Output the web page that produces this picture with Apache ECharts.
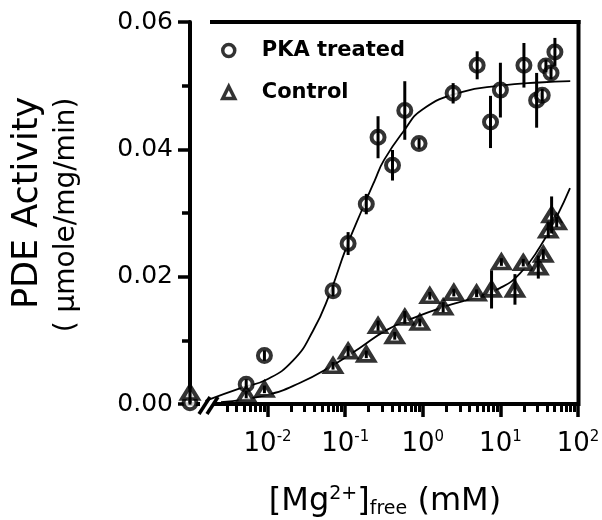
<!DOCTYPE html>
<html>
<head>
<meta charset="utf-8">
<script src="https://cdn.jsdelivr.net/npm/echarts@6/dist/echarts.min.js"></script>
<style>
html, body { margin: 0; padding: 0; background: #fff; }
#main { width: 602px; height: 520px; }
</style>
</head>
<body>
<div id="main"></div>
<script>
// PKA treated (circles)
var pkaX   = [0.001, 0.0053, 0.0091, 0.0697, 0.109, 0.187, 0.265, 0.407, 0.586, 0.895, 2.46, 5.02, 7.46, 10.0, 20.1, 29.3, 34.6, 38.6, 44.9, 50.4];
var pkaY   = [0.0002, 0.0031, 0.0076, 0.0178, 0.0252, 0.0314, 0.0419, 0.0375, 0.0461, 0.0409, 0.0488, 0.0532, 0.0443, 0.0493, 0.0532, 0.0477, 0.0485, 0.0531, 0.0520, 0.0553];
var pkaErr = [0.0003, 0.0008, 0.0008, 0.0009, 0.0018, 0.0016, 0.0033, 0.0024, 0.0046, 0.0008, 0.0016, 0.0022, 0.0041, 0.0043, 0.0035, 0.0043, 0.0010, 0.0010, 0.0010, 0.0022];

// Control (triangles)
var ctrlX   = [0.001, 0.0053, 0.0091, 0.0697, 0.109, 0.187, 0.265, 0.435, 0.586, 0.915, 1.23, 1.83, 2.51, 4.93, 7.69, 10.3, 15.4, 19.7, 30.8, 35.7, 41.4, 45.7, 53.1];
var ctrlY   = [0.0018, 0.0015, 0.0023, 0.0060, 0.0083, 0.0078, 0.0123, 0.0107, 0.0136, 0.0128, 0.0170, 0.0152, 0.0175, 0.0174, 0.0180, 0.0223, 0.0180, 0.0222, 0.0215, 0.0235, 0.0273, 0.0297, 0.0286];
var ctrlErr = [0.0016, 0.0006, 0.0006, 0.0006, 0.0008, 0.0006, 0.0008, 0.0006, 0.0010, 0.0006, 0.0006, 0.0008, 0.0006, 0.0006, 0.0030, 0.0006, 0.0024, 0.0006, 0.0018, 0.0008, 0.0012, 0.0029, 0.0008];

// fitted curves
var pkaCurveX = [0.00158, 0.00479, 0.00962, 0.0212, 0.0385, 0.0631, 0.1035, 0.170, 0.240, 0.316, 0.562, 1.0, 3.16, 10.0, 31.6, 79.4];
var pkaCurveY = [0.0005, 0.0026, 0.0038, 0.0068, 0.0115, 0.0173, 0.0246, 0.0309, 0.0351, 0.0383, 0.0428, 0.0463, 0.0490, 0.0500, 0.0505, 0.0507];
var ctrlCurveX = [0.00251, 0.00962, 0.0259, 0.0697, 0.154, 0.340, 0.750, 2.02, 4.93, 9.86, 17.9, 32.4, 53.1, 78.9];
var ctrlCurveY = [0.0003, 0.0014, 0.0033, 0.0061, 0.0088, 0.0116, 0.0135, 0.0154, 0.0168, 0.0182, 0.0205, 0.0247, 0.0294, 0.0339];

// axis ticks
var xMajorTicks = [0.01, 0.1, 1, 10, 100];
var xMinorTicks = [0.003, 0.004, 0.005, 0.006, 0.007, 0.008, 0.009,
                   0.02, 0.03, 0.04, 0.05, 0.06, 0.07, 0.08, 0.09,
                   0.2, 0.3, 0.4, 0.5, 0.6, 0.7, 0.8, 0.9,
                   2, 3, 4, 5, 6, 7, 8, 9,
                   20, 30, 40, 50, 60, 70, 80, 90];

var FONT = 'DejaVu Sans';

function pairs(xs, ys) {
    return xs.map(function (x, i) { return [x, ys[i]]; });
}
function bars(xs, ys, es) {
    return xs.map(function (x, i) { return [x, ys[i] - es[i], ys[i] + es[i]]; });
}
function renderErr(params, api) {
    var x = api.value(0);
    var lo = api.coord([x, api.value(1)]);
    var hi = api.coord([x, api.value(2)]);
    return {
        type: 'line',
        shape: { x1: lo[0], y1: lo[1], x2: hi[0], y2: hi[1] },
        style: { stroke: '#000', lineWidth: 3 }
    };
}

var chart = echarts.init(document.getElementById('main'), null, { renderer: 'canvas' });

var option = {
    animation: false,
    backgroundColor: '#fff',
    grid: {
        left: 190, right: 24, top: 22, bottom: 116,
        containLabel: false,
        outerBoundsMode: 'none'
    },
    legend: {
        orient: 'vertical',
        left: 221,
        top: 40,
        padding: 0,
        itemWidth: 12,
        itemHeight: 12,
        itemGap: 21,
        selectedMode: false,
        data: ['PKA treated', 'Control'],
        itemStyle: { borderWidth: 3.5, borderColor: '#000', color: '#fff' },
        textStyle: {
            fontFamily: FONT, fontSize: 21, fontWeight: 'bold', color: '#000',
            padding: [0, 0, 0, 22]
        }
    },
    xAxis: [
        {
            type: 'log', logBase: 10, min: 0.001, max: 100,
            position: 'bottom',
            axisLine: { show: false },
            splitLine: { show: false },
            minorTick: { show: false },
            axisTick: {
                show: true, customValues: xMajorTicks, length: 13,
                lineStyle: { color: '#000', width: 3.5 }
            },
            axisLabel: {
                customValues: xMajorTicks,
                margin: 26,
                formatter: function (v) {
                    return '{b|10}{s|' + Math.round(Math.log10(v)) + '}';
                },
                rich: {
                    b: { fontFamily: FONT, fontSize: 26, color: '#000', lineHeight: 28 },
                    s: { fontFamily: FONT, fontSize: 15, color: '#000', lineHeight: 15, verticalAlign: 'top' }
                }
            }
        },
        {
            type: 'log', logBase: 10, min: 0.001, max: 100,
            position: 'bottom',
            axisLine: { show: false },
            splitLine: { show: false },
            axisLabel: { show: false },
            axisTick: {
                show: true, customValues: xMinorTicks, length: 8,
                lineStyle: { color: '#000', width: 3 }
            }
        }
    ],
    yAxis: {
        type: 'value', min: 0, max: 0.06, interval: 0.02,
        axisLine: { show: true, lineStyle: { color: '#000', width: 4 } },
        axisTick: { show: true, length: 12, lineStyle: { color: '#000', width: 3.5 } },
        minorTick: { show: true, splitNumber: 2, length: 8, lineStyle: { color: '#000', width: 3.5 } },
        splitLine: { show: false },
        axisLabel: {
            margin: 17,
            fontFamily: FONT, fontSize: 25, color: '#000',
            formatter: function (v) { return v.toFixed(2); }
        }
    },
    series: [
        {
            name: 'pka fit', type: 'line', data: pairs(pkaCurveX, pkaCurveY),
            smooth: true, showSymbol: false, z: 1, silent: true,
            lineStyle: { color: '#000', width: 1.8 }
        },
        {
            name: 'control fit', type: 'line', data: pairs(ctrlCurveX, ctrlCurveY),
            smooth: true, showSymbol: false, z: 1, silent: true,
            lineStyle: { color: '#000', width: 1.8 }
        },
        {
            name: 'PKA treated', type: 'scatter', data: pairs(pkaX, pkaY),
            symbol: 'circle', symbolSize: 13, clip: false, z: 2,
            itemStyle: { color: '#fff', borderColor: '#000', borderWidth: 4 }
        },
        {
            name: 'Control', type: 'scatter', data: pairs(ctrlX, ctrlY),
            symbol: 'triangle', symbolSize: [16, 13], clip: false, z: 2,
            itemStyle: { color: '#fff', borderColor: '#000', borderWidth: 4 }
        },
        {
            name: 'pka err', type: 'custom', data: bars(pkaX, pkaY, pkaErr),
            renderItem: renderErr, encode: { x: 0, y: [1, 2] }, clip: false, z: 3, silent: true
        },
        {
            name: 'control err', type: 'custom', data: bars(ctrlX, ctrlY, ctrlErr),
            renderItem: renderErr, encode: { x: 0, y: [1, 2] }, clip: false, z: 3, silent: true
        }
    ],
    graphic: [
        // frame top and right
        { type: 'line', shape: { x1: 210, y1: 22, x2: 580.5, y2: 22 }, style: { stroke: '#000', lineWidth: 4 } },
        { type: 'line', shape: { x1: 578.5, y1: 20, x2: 578.5, y2: 406 }, style: { stroke: '#000', lineWidth: 4 } },
        // x axis with break
        { type: 'line', shape: { x1: 188, y1: 404, x2: 200, y2: 404 }, style: { stroke: '#000', lineWidth: 4 } },
        { type: 'line', shape: { x1: 214, y1: 404, x2: 580, y2: 404 }, style: { stroke: '#000', lineWidth: 4 } },
        { type: 'line', shape: { x1: 199, y1: 414, x2: 210, y2: 397 }, style: { stroke: '#000', lineWidth: 3.5 } },
        { type: 'line', shape: { x1: 207, y1: 414, x2: 218, y2: 397 }, style: { stroke: '#000', lineWidth: 3.5 } },
        // y axis title
        {
            type: 'text', x: 28, y: 203, rotation: Math.PI / 2,
            style: { text: 'PDE Activity', fontFamily: FONT, fontSize: 35, fill: '#000', align: 'center', verticalAlign: 'middle' }
        },
        {
            type: 'text', x: 67, y: 215, rotation: Math.PI / 2,
            style: { text: '( µmole/mg/min)', fontFamily: FONT, fontSize: 28, fill: '#000', align: 'center', verticalAlign: 'middle' }
        },
        // x axis title
        {
            type: 'text', x: 385, y: 502,
            style: {
                text: '{m|[Mg}{p|2+}{m|]}{d|free}{m| (mM)}',
                align: 'center', verticalAlign: 'middle',
                rich: {
                    m: { fontFamily: FONT, fontSize: 32, color: '#000', lineHeight: 34 },
                    p: { fontFamily: FONT, fontSize: 19, color: '#000', lineHeight: 19, verticalAlign: 'top' },
                    d: { fontFamily: FONT, fontSize: 19, color: '#000', lineHeight: 19, verticalAlign: 'bottom' }
                }
            }
        }
    ]
};

chart.setOption(option);
</script>
</body>
</html>
